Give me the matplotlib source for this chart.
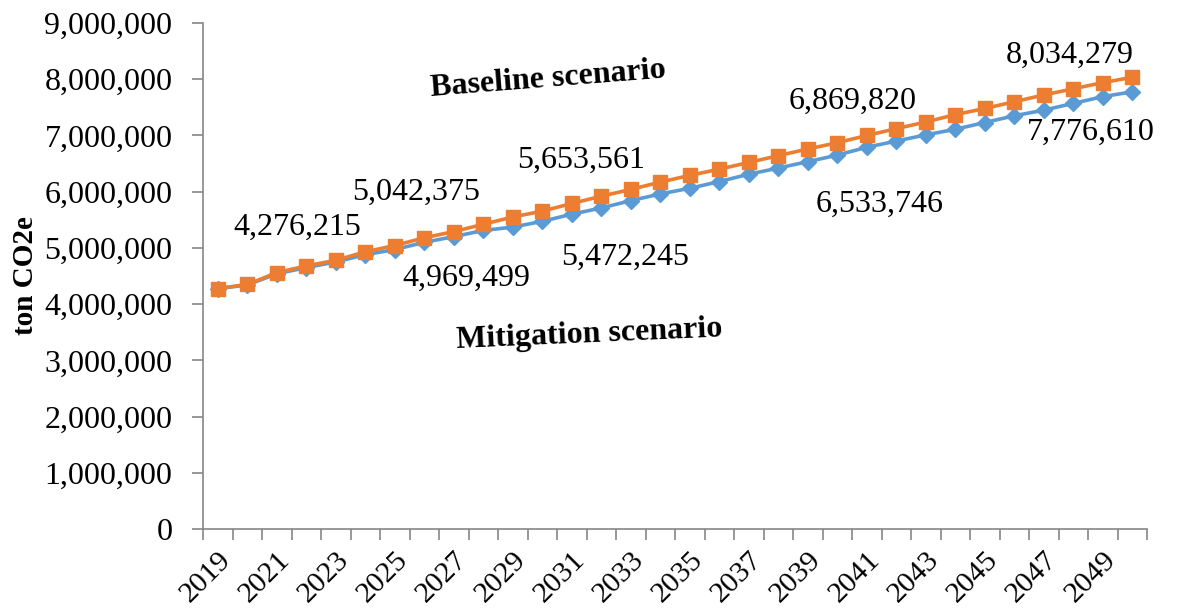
import numpy as np
import matplotlib
matplotlib.use("Agg")
import matplotlib.pyplot as plt
from matplotlib.ticker import FuncFormatter, FixedLocator

plt.rcParams['font.family'] = ['Liberation Serif', 'DejaVu Serif']

# data
years = list(range(2019, 2051))
baseline = [4276215, 4350000, 4560000, 4680000, 4780000, 4930000, 5042375, 5180000,
            5290000, 5420000, 5550000, 5653561, 5790000, 5920000, 6040000, 6170000,
            6290000, 6400000, 6520000, 6640000, 6760000, 6869820, 7000000, 7120000,
            7240000, 7370000, 7480000, 7600000, 7720000, 7830000, 7940000, 8034279]
mitigation = [4276215, 4340000, 4540000, 4650000, 4750000, 4880000, 4969499, 5100000,
              5200000, 5310000, 5370000, 5472245, 5600000, 5710000, 5840000, 5960000,
              6060000, 6180000, 6310000, 6420000, 6533746, 6650000, 6790000, 6900000,
              7010000, 7110000, 7230000, 7350000, 7450000, 7570000, 7690000, 7776610]

# value labels: (text, x in category units, y)
base_labels = [("4,276,215", 2.69, 5370000), ("5,042,375", 6.73, 5990000),
               ("5,653,561", 12.31, 6550000), ("6,869,820", 21.53, 7610000),
               ("8,034,279", 28.89, 8430000)]
mit_labels = [("4,969,499", 8.42, 4450000), ("5,472,245", 13.81, 4840000),
              ("6,533,746", 22.45, 5780000), ("7,776,610", 29.6, 7060000)]

orange = '#ED7D31'
blue = '#5B9BD5'
axcol = '#868686'

fig = plt.figure(figsize=(11.79, 6.15), dpi=100)
ax = fig.add_axes([0.1722, 0.1398, 0.8007, 0.8228])

x = np.arange(len(years))
ax.plot(x, mitigation, color=blue, lw=2.6, marker='D', ms=8.5, zorder=3)
ax.plot(x, baseline, color=orange, lw=2.6, marker='s', ms=9.5, zorder=4)

ax.set_xlim(-0.5, len(years) - 0.5)
ax.set_ylim(0, 9000000)
ax.set_yticks(np.arange(0, 9000001, 1000000))
ax.yaxis.set_major_formatter(FuncFormatter(lambda v, p: f"{int(v):,}"))

ax.set_xticks(x[::2])
ax.set_xticklabels([str(y) for y in years[::2]], rotation=45, ha='right',
                   va='top', rotation_mode='anchor')
ax.xaxis.set_minor_locator(FixedLocator(np.arange(-0.5, len(years), 1)))
ax.tick_params(axis='x', which='major', length=0, pad=13, labelsize=21.5)
ax.tick_params(axis='x', which='minor', length=8, color=axcol, width=1.2)
ax.tick_params(axis='y', length=8, color=axcol, width=1.2, labelsize=23, pad=14)

for s in ['top', 'right']:
    ax.spines[s].set_visible(False)
for s in ['left', 'bottom']:
    ax.spines[s].set_color(axcol)
    ax.spines[s].set_linewidth(1.2)

ax.set_ylabel('ton CO2e', fontsize=21, fontweight='bold')
ax.yaxis.set_label_coords(-0.174, 0.5)

for t, lx, ly in base_labels + mit_labels:
    ax.text(lx, ly, t, fontsize=23, ha='center', va='center')

ax.text(11.2, 8000000, 'Baseline scenario', fontsize=23, fontweight='bold',
        ha='center', va='center', rotation=4.5)
ax.text(12.6, 3450000, 'Mitigation scenario', fontsize=23, fontweight='bold',
        ha='center', va='center', rotation=2.5)

fig.savefig('out.png', dpi=100)
